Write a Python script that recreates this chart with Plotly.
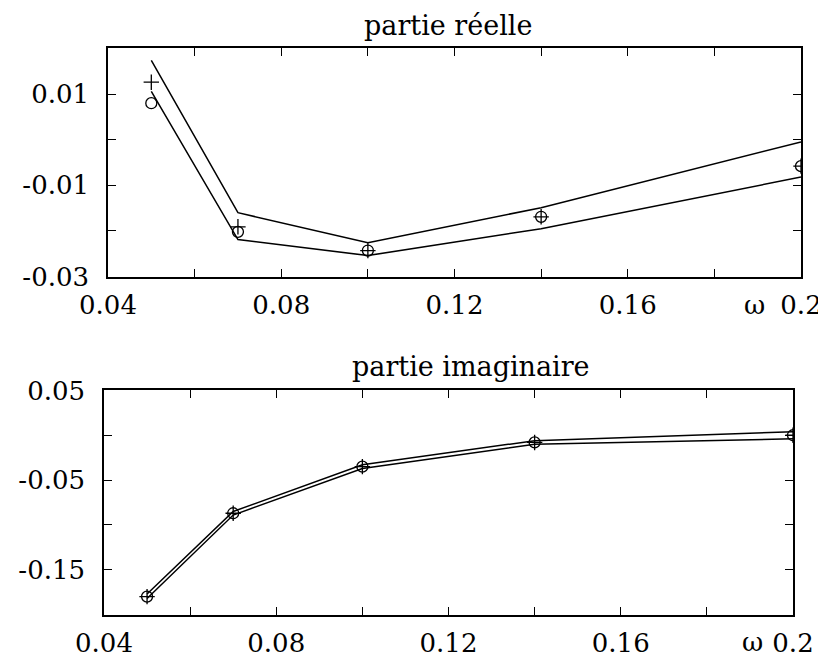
import plotly.graph_objects as go

# frequencies
omega = [0.05, 0.07, 0.10, 0.14, 0.20]

# partie reelle
re_upper = [0.0174, -0.0160, -0.0226, -0.0149, -0.0005]
re_lower = [0.0106, -0.0219, -0.0254, -0.0195, -0.0082]
re_plus = [0.0126, -0.0191, -0.0243, -0.0169, -0.0058]
re_circle = [0.0080, -0.0202, -0.0243, -0.0169, -0.0058]

# partie imaginaire
im_upper = [-0.177, -0.085, -0.033, -0.006, 0.004]
im_lower = [-0.182, -0.089, -0.037, -0.010, -0.004]
im_plus = [-0.180, -0.087, -0.035, -0.008, 0.000]
im_circle = [-0.180, -0.087, -0.035, -0.008, 0.000]

x_ticks = [0.04, 0.06, 0.08, 0.10, 0.12, 0.14, 0.16, 0.18, 0.20]
x_labels = ["0.04", "", "0.08", "", "0.12", "", "0.16", "", "0.2"]
re_ticks = [-0.03, -0.02, -0.01, 0.0, 0.01, 0.02]
re_labels = ["-0.03", "", "-0.01", "", "0.01", ""]
im_ticks = [-0.20, -0.15, -0.10, -0.05, 0.0, 0.05]
im_labels = ["", "-0.15", "", "-0.05", "", "0.05"]

FONT = "DejaVu Serif"
# the page body has an 8px margin, so the figure is shrunk and shifted by it
OFF = 8
W, H = 826 - OFF, 663 - OFF

def px_x(p):
    return (p - OFF) / W

def px_y(p):
    return 1 - (p - OFF) / H

fig = go.Figure()

def add_panel(fig, upper, lower, plus, circle, xa, ya):
    for ys in (upper, lower):
        fig.add_trace(go.Scatter(x=omega, y=ys, mode="lines",
                                 line=dict(color="black", width=1.5),
                                 xaxis=xa, yaxis=ya, showlegend=False))
    fig.add_trace(go.Scatter(x=omega, y=plus, mode="markers",
                             marker=dict(symbol="cross-thin-open", size=11, color="black",
                                         line=dict(color="black", width=1.3)),
                             xaxis=xa, yaxis=ya, showlegend=False))
    fig.add_trace(go.Scatter(x=omega, y=circle, mode="markers",
                             marker=dict(symbol="circle-open", size=11, color="black",
                                         line=dict(color="black", width=1.3)),
                             xaxis=xa, yaxis=ya, showlegend=False))

add_panel(fig, re_upper, re_lower, re_plus, re_circle, "x", "y")
add_panel(fig, im_upper, im_lower, im_plus, im_circle, "x2", "y2")

axis_common = dict(
    showline=True, linecolor="black", linewidth=1.5, mirror="ticks",
    ticks="inside", ticklen=8, tickwidth=1, tickcolor="black",
    showgrid=False, zeroline=False,
    tickfont=dict(family=FONT, size=26, color="black"),
    ticklabeloverflow="allow",
)
xax = dict(axis_common, range=[0.04, 0.2], tickvals=x_ticks, ticktext=x_labels,
           ticklabelstandoff=4)
yax = dict(axis_common, ticklabelstandoff=12)

title_font = dict(family=FONT, size=27, color="black")
omega_font = dict(family=FONT, size=26, color="black")

fig.update_layout(
    width=W, height=H,
    margin=dict(l=0, r=0, t=0, b=0, autoexpand=False),
    plot_bgcolor="white", paper_bgcolor="white",
    xaxis=dict(xax, domain=[px_x(108), px_x(801)], anchor="y"),
    yaxis=dict(yax, domain=[px_y(277), px_y(48)], range=[-0.0301, 0.0201],
               tickvals=re_ticks, ticktext=re_labels, anchor="x"),
    xaxis2=dict(xax, domain=[px_x(104), px_x(793)], anchor="y2"),
    yaxis2=dict(yax, domain=[px_y(615), px_y(390)], range=[-0.2005, 0.0505],
                tickvals=im_ticks, ticktext=im_labels, anchor="x2"),
    annotations=[
        dict(text="partie réelle", x=px_x(448), y=1.0, xref="paper", yref="paper",
             xanchor="center", yanchor="top", showarrow=False, font=title_font),
        dict(text="partie imaginaire", x=px_x(471), y=px_y(366), xref="paper", yref="paper",
             xanchor="center", yanchor="middle", showarrow=False, font=title_font),
        dict(text="ω", x=px_x(754), y=px_y(305), xref="paper", yref="paper",
             xanchor="center", yanchor="middle", showarrow=False, font=omega_font),
        dict(text="ω", x=px_x(752), y=px_y(642), xref="paper", yref="paper",
             xanchor="center", yanchor="middle", showarrow=False, font=omega_font),
    ],
)

fig.write_html("out.html")
